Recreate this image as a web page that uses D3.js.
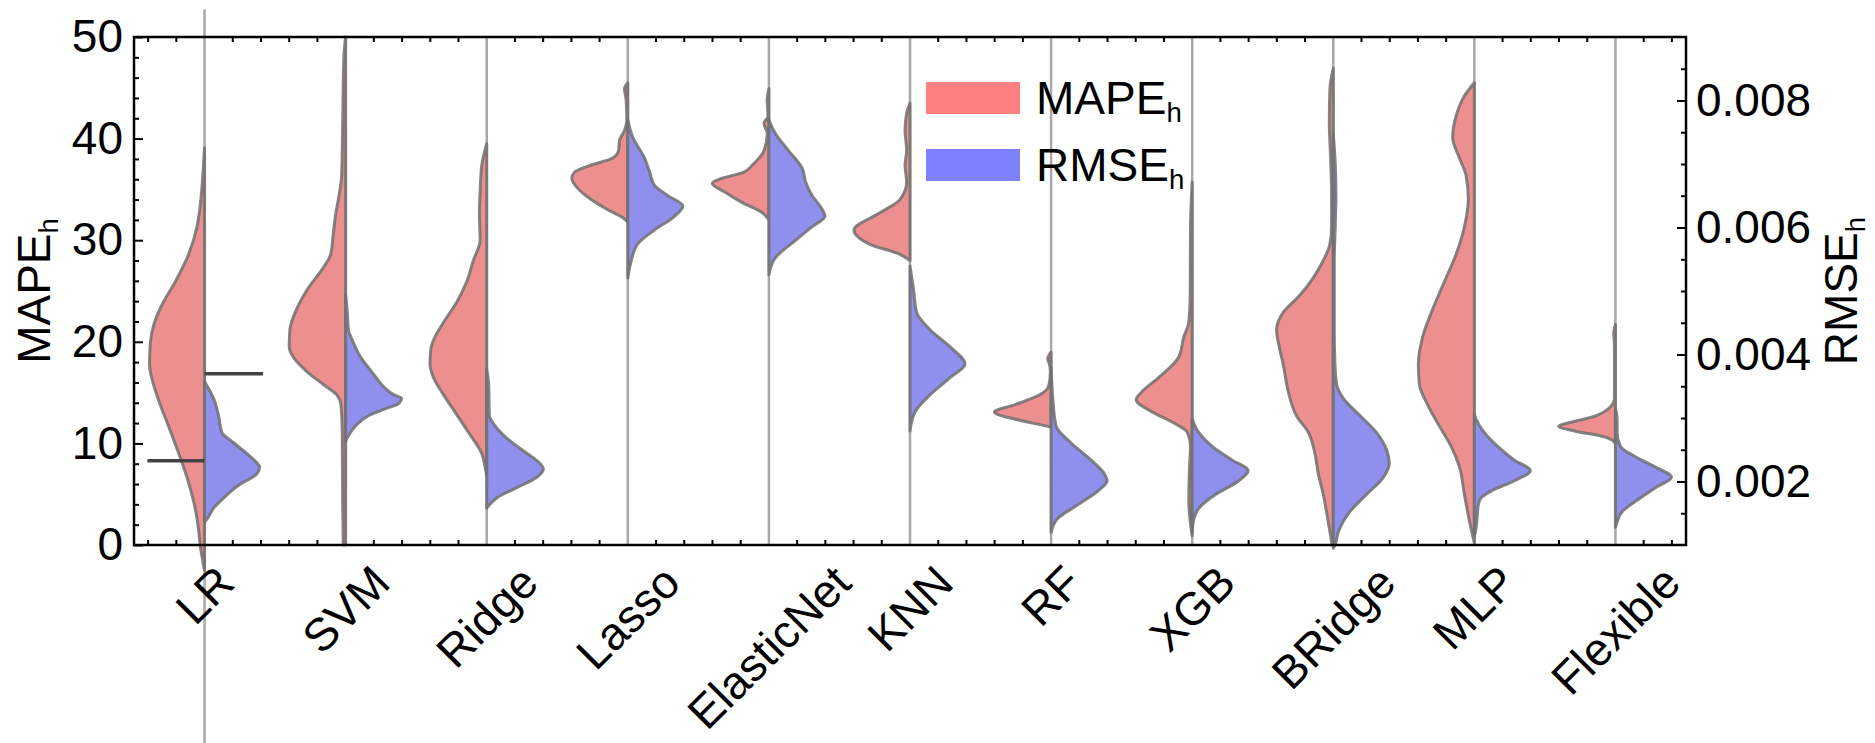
<!DOCTYPE html>
<html>
<head>
<meta charset="utf-8">
<script src="https://cdn.jsdelivr.net/npm/d3@7"></script>
<style>
  body { margin: 0; background: #fff; }
  svg text { font-family: "Liberation Sans", Arial, Helvetica, sans-serif; fill: #000; }
</style>
</head>
<body>
<div id="chart"></div>
<script>
// categories (x axis)
const categories = ["LR", "SVM", "Ridge", "Lasso", "ElasticNet", "KNN", "RF", "XGB", "BRidge", "MLP", "Flexible"];

// axis ticks
const mapeTicks = [0, 10, 20, 30, 40, 50];
const rmseTicks = [0.002, 0.004, 0.006, 0.008];

// violin outlines: [value, half width as share of category step]
// MAPE halves sit on the left axis, RMSE halves on the right axis
const mapeLR = [[-2.5,0],[0,0.031],[1.6,0.043],[3.6,0.066],[5.6,0.102],[7.7,0.149],[9.7,0.201],[11.7,0.255],[13.8,0.314],[15.8,0.362],[17.8,0.39],[19.8,0.385],[21.9,0.355],[23.6,0.303],[25.9,0.208],[28.6,0.113],[31.3,0.054],[34.0,0.026],[36.4,0.012],[39.1,0]];
const rmseLR = [[0.00136,0],[0.00142,0.021],[0.00158,0.064],[0.00174,0.135],[0.00196,0.253],[0.00212,0.371],[0.00223,0.39],[0.00228,0.376],[0.00244,0.30],[0.00261,0.206],[0.00277,0.123],[0.00304,0.099],[0.00331,0.064],[0.00353,0.012],[0.00358,0]];
const mapeSVM = [[0,0.017],[4.3,0.021],[11.1,0.024],[13.8,0.033],[14.8,0.064],[15.8,0.158],[17.1,0.277],[18.5,0.371],[19.5,0.40],[21.2,0.395],[23.2,0.348],[25.3,0.265],[27.3,0.158],[28.6,0.106],[30.7,0.087],[32.7,0.069],[34.0,0.052],[36.4,0.028],[41.5,0.021],[48.2,0.012],[50,0]];
const rmseSVM = [[0.002634,0],[0.002715,0.019],[0.002877,0.071],[0.003039,0.165],[0.003147,0.284],[0.003229,0.378],[0.00331,0.397],[0.003364,0.343],[0.003472,0.279],[0.003634,0.217],[0.003796,0.161],[0.003959,0.106],[0.004229,0.047],[0.004391,0.019],[0.004662,0.012],[0.004932,0]];
const mapeRidge = [[6.8,0],[7.7,0.012],[9.0,0.035],[11.1,0.13],[13.1,0.225],[14.8,0.307],[16.5,0.378],[17.8,0.402],[19.2,0.397],[20.5,0.366],[21.9,0.307],[23.9,0.213],[25.9,0.142],[28.0,0.095],[30.0,0.047],[32.7,0.052],[34.7,0.047],[37.4,0.035],[39.5,0]];
const rmseRidge = [[0.001579,0],[0.001633,0.019],[0.001741,0.071],[0.001903,0.213],[0.002066,0.355],[0.002201,0.402],[0.002282,0.378],[0.002444,0.284],[0.002661,0.154],[0.002877,0.059],[0.003039,0.019],[0.003526,0.014],[0.003769,0]];
const mapeLasso = [[31.8,0],[32.2,0.035],[33.0,0.142],[34.0,0.26],[35.1,0.355],[36.1,0.397],[36.7,0.378],[37.4,0.26],[38.1,0.106],[38.8,0.066],[39.8,0.059],[40.8,0.024],[41.8,0.007],[43.8,0.012],[44.9,0.024],[45.5,0]];
const rmseLasso = [[0.005203,0],[0.005473,0.024],[0.005744,0.071],[0.00596,0.189],[0.006176,0.331],[0.006339,0.39],[0.006501,0.284],[0.006663,0.189],[0.00688,0.154],[0.007096,0.118],[0.007421,0.035],[0.007691,0]];
const mapeElasticNet = [[32.0,0],[32.7,0.047],[33.7,0.189],[34.7,0.307],[35.6,0.402],[36.1,0.331],[36.7,0.177],[37.4,0.118],[38.8,0.035],[40.5,0.012],[41.5,0.035],[42.2,0.007],[43.8,0.012],[44.9,0]];
const rmseElasticNet = [[0.005257,0],[0.005527,0.047],[0.005798,0.189],[0.006014,0.307],[0.006176,0.397],[0.006285,0.378],[0.006501,0.307],[0.006717,0.26],[0.006934,0.236],[0.007204,0.142],[0.007475,0.047],[0.007691,0]];
const mapeKNN = [[28.0,0],[28.6,0.071],[29.6,0.284],[31.0,0.397],[32.7,0.213],[34.0,0.071],[35.7,0.024],[37.4,0.035],[38.8,0.024],[40.8,0.035],[42.5,0.024],[43.5,0]];
const rmseKNN = [[0.002796,0],[0.003093,0.035],[0.003364,0.142],[0.003634,0.284],[0.003851,0.39],[0.004121,0.284],[0.004391,0.142],[0.004662,0.047],[0.005041,0.024],[0.005392,0]];
const mapeRF = [[11.6,0],[11.9,0.095],[12.4,0.26],[13.1,0.402],[13.8,0.26],[14.4,0.142],[15.1,0.047],[15.8,0.014],[17.1,0.005],[17.8,0.012],[18.3,0.024],[19.0,0]];
const rmseRF = [[0.0012,0],[0.001417,0.047],[0.001633,0.189],[0.001849,0.331],[0.002012,0.397],[0.00212,0.378],[0.002336,0.284],[0.002607,0.142],[0.002877,0.035],[0.00331,0.012],[0.003796,0]];
const mapeXGB = [[0.9,0],[4.3,0.024],[7.7,0.019],[9.7,0.012],[11.1,0.035],[12.1,0.142],[13.1,0.284],[14.3,0.397],[15.1,0.355],[16.5,0.236],[18.5,0.095],[20.5,0.059],[21.9,0.024],[24.6,0.014],[31.3,0.012],[35.7,0]];
const rmseXGB = [[0.0012,0],[0.001362,0.007],[0.001579,0.047],[0.001795,0.165],[0.002012,0.331],[0.002174,0.397],[0.002336,0.284],[0.002552,0.142],[0.002769,0.047],[0.002985,0]];
const mapeBRidge = [[0,0.008],[0.9,0.019],[2.9,0.043],[5.0,0.071],[7.0,0.106],[9.0,0.13],[11.1,0.177],[12.7,0.26],[15.1,0.319],[17.8,0.355],[19.5,0.383],[21.2,0.402],[22.9,0.355],[24.6,0.236],[26.3,0.142],[28.0,0.071],[29.6,0.024],[31.3,0.012],[34.7,0.012],[38.1,0.019],[41.5,0.028],[44.9,0.024],[46.9,0]];
const rmseBRidge = [[0.00095,0],[0.001,0.012],[0.0012,0.035],[0.001525,0.118],[0.001795,0.236],[0.002066,0.355],[0.002282,0.397],[0.002498,0.378],[0.002769,0.307],[0.003039,0.189],[0.00331,0.071],[0.003526,0.024],[0.003851,0.012],[0.004391,0.007],[0.005473,0.007],[0.006014,0.014],[0.006555,0.019],[0.007096,0.012],[0.007475,0]];
const mapeMLP = [[0.2,0],[0.9,0.012],[2.9,0.043],[5.0,0.071],[7.7,0.106],[9.7,0.165],[11.7,0.248],[13.8,0.331],[15.8,0.39],[17.8,0.397],[20.5,0.366],[23.2,0.296],[25.9,0.213],[28.6,0.13],[31.3,0.071],[34.0,0.043],[36.4,0.059],[38.1,0.106],[40.1,0.154],[42.2,0.13],[44.2,0.071],[45.5,0]];
const rmseMLP = [[0.001146,0],[0.0012,0.007],[0.001417,0.019],[0.001633,0.028],[0.001741,0.047],[0.001849,0.118],[0.002012,0.284],[0.002174,0.397],[0.002336,0.284],[0.002552,0.165],[0.002769,0.071],[0.002985,0.012],[0.003066,0]];
const mapeFlexible = [[9.9,0],[10.2,0.012],[10.7,0.095],[11.2,0.284],[11.7,0.402],[12.1,0.307],[12.7,0.142],[13.6,0.035],[14.4,0.007],[19.5,0.007],[20.9,0.012],[21.7,0]];
const rmseFlexible = [[0.001281,0],[0.001362,0.012],[0.001525,0.047],[0.001687,0.142],[0.001903,0.284],[0.002066,0.397],[0.002228,0.284],[0.00239,0.142],[0.002552,0.035],[0.002769,0.012],[0.002985,0.012],[0.003147,0]];

const mapeProfiles = [mapeLR, mapeSVM, mapeRidge, mapeLasso, mapeElasticNet, mapeKNN, mapeRF, mapeXGB, mapeBRidge, mapeMLP, mapeFlexible];
const rmseProfiles = [rmseLR, rmseSVM, rmseRidge, rmseLasso, rmseElasticNet, rmseKNN, rmseRF, rmseXGB, rmseBRidge, rmseMLP, rmseFlexible];

// the two short marker lines on LR: [MAPE value, side (-1 left / 1 right), length as share of step]
const lrMarkers = [[8.3, -1, 0.405], [16.85, 1, 0.415]];
// LR guide line runs past the frame (MAPE units)
const lrGuideRange = [-19.6, 52.7];

// chart settings
const svg_width = 1875, svg_height = 743;
const plot = { left: 134, right: 1686, top: 37, bottom: 545 };
const fontSize = 46;
const mapeFill = "#ee8f8f", rmseFill = "#8f8fee";
const mapeLegend = "#ff8080", rmseLegend = "#8080ff";

const svg = d3.select("#chart").append("svg")
  .attr("width", svg_width)
  .attr("height", svg_height);

// scales
const x = d3.scalePoint()
  .domain(categories)
  .range([plot.left, plot.right])
  .padding(0.5);
const yL = d3.scaleLinear().domain([0, 50]).range([plot.bottom, plot.top]);
const yR = d3.scaleLinear().domain([0.001, 0.009]).range([plot.bottom, plot.top]);
const w = d3.scaleLinear().domain([0, 1]).range([0, x.step()]);

// vertical guide line per category
svg.append("g").selectAll("line")
  .data(categories)
  .enter().append("line")
  .attr("x1", d => x(d)).attr("x2", d => x(d))
  .attr("y1", d => d === "LR" ? yL(lrGuideRange[1]) : plot.top)
  .attr("y2", d => d === "LR" ? yL(lrGuideRange[0]) : plot.bottom)
  .attr("stroke", "#a8a8a8")
  .attr("stroke-width", 2.5);

// split violins
const halfArea = (cx, yScale, side) => d3.area()
  .curve(d3.curveMonotoneY)
  .y(d => yScale(d[0]))
  .x0(cx)
  .x1(d => cx + side * w(d[1]));

const violins = svg.append("g");
categories.forEach((cat, i) => {
  const cx = x(cat);
  [[mapeProfiles[i], yL, -1, mapeFill], [rmseProfiles[i], yR, 1, rmseFill]].forEach(([prof, ys, side, fill]) => {
    violins.append("path")
      .datum(prof)
      .attr("d", halfArea(cx, ys, side))
      .attr("fill", fill)
      .attr("stroke", "#707070")
      .attr("stroke-opacity", 0.85)
      .attr("stroke-width", 3)
      .attr("stroke-linejoin", "round");
  });
});

// LR markers
svg.append("g").selectAll("line")
  .data(lrMarkers)
  .enter().append("line")
  .attr("x1", x("LR"))
  .attr("x2", d => x("LR") + d[1] * w(d[2]))
  .attr("y1", d => yL(d[0])).attr("y2", d => yL(d[0]))
  .attr("stroke", "#444")
  .attr("stroke-width", 3.5);

// axes
function styleAxis(g) {
  g.select(".domain").remove();
  g.selectAll(".tick line").attr("stroke", "#000").attr("stroke-width", 2);
  g.selectAll(".tick text").attr("font-size", fontSize);
}

const mapeMinor = d3.range(0, 51, 2).filter(v => v % 10 !== 0);
svg.append("g")
  .attr("transform", `translate(${plot.left},0)`)
  .call(d3.axisLeft(yL).tickValues(mapeTicks).tickSize(-9).tickPadding(11))
  .call(styleAxis);
svg.append("g")
  .attr("transform", `translate(${plot.left},0)`)
  .call(d3.axisLeft(yL).tickValues(mapeMinor).tickSize(-5).tickFormat(""))
  .call(styleAxis);

const rmseMinor = d3.range(3, 18).filter(k => k % 4 !== 0).map(k => k * 0.0005);
svg.append("g")
  .attr("transform", `translate(${plot.right},0)`)
  .call(d3.axisRight(yR).tickValues(rmseTicks).tickFormat(d3.format(".3f")).tickSize(-9).tickPadding(10))
  .call(styleAxis);
svg.append("g")
  .attr("transform", `translate(${plot.right},0)`)
  .call(d3.axisRight(yR).tickValues(rmseMinor).tickSize(-5).tickFormat(""))
  .call(styleAxis);

// minor x ticks, bottom and top
const xMinor = [];
categories.forEach(c => [-0.4, -0.2, 0.2, 0.4].forEach(k => xMinor.push(x(c) + k * x.step())));
[[plot.bottom, -1], [plot.top, 1]].forEach(([y0, dir]) => {
  svg.append("g").selectAll("line")
    .data(xMinor)
    .enter().append("line")
    .attr("x1", d => d).attr("x2", d => d)
    .attr("y1", y0).attr("y2", y0 + dir * 5)
    .attr("stroke", "#000").attr("stroke-width", 2);
});

// frame
svg.append("rect")
  .attr("x", plot.left).attr("y", plot.top)
  .attr("width", plot.right - plot.left)
  .attr("height", plot.bottom - plot.top)
  .attr("fill", "none")
  .attr("stroke", "#000")
  .attr("stroke-width", 2.5);

// x labels, rotated 45 degrees, box centred under each category
const xLabelTop = 562;
svg.append("g").selectAll("text")
  .data(categories)
  .enter().append("text")
  .attr("font-size", fontSize)
  .attr("text-anchor", "middle")
  .attr("dy", "0.35em")
  .text(d => d)
  .each(function (d) {
    const len = this.getComputedTextLength();
    const box = (len + 34) * Math.SQRT1_2;
    d3.select(this).attr("transform", `translate(${x(d)},${xLabelTop + box / 2}) rotate(-45)`);
  });

// axis titles with subscript h
function subLabel(sel, main) {
  sel.append("tspan").text(main);
  sel.append("tspan").attr("font-size", fontSize * 0.6).attr("dy", 7.5).text("h");
}
svg.append("text")
  .attr("font-size", fontSize)
  .attr("text-anchor", "middle")
  .attr("transform", `translate(50,${(plot.top + plot.bottom) / 2}) rotate(-90)`)
  .call(subLabel, "MAPE");
svg.append("text")
  .attr("font-size", fontSize)
  .attr("text-anchor", "middle")
  .attr("transform", `translate(1857,${(plot.top + plot.bottom) / 2}) rotate(-90)`)
  .call(subLabel, "RMSE");

// legend
const legend = svg.append("g").attr("transform", "translate(926,82)");
[["MAPE", mapeLegend], ["RMSE", rmseLegend]].forEach(([name, color], i) => {
  const row = legend.append("g").attr("transform", `translate(0,${i * 67})`);
  row.append("rect").attr("width", 94).attr("height", 32).attr("fill", color);
  row.append("text")
    .attr("x", 110).attr("y", 32)
    .attr("font-size", fontSize)
    .call(subLabel, name);
});
</script>
</body>
</html>
